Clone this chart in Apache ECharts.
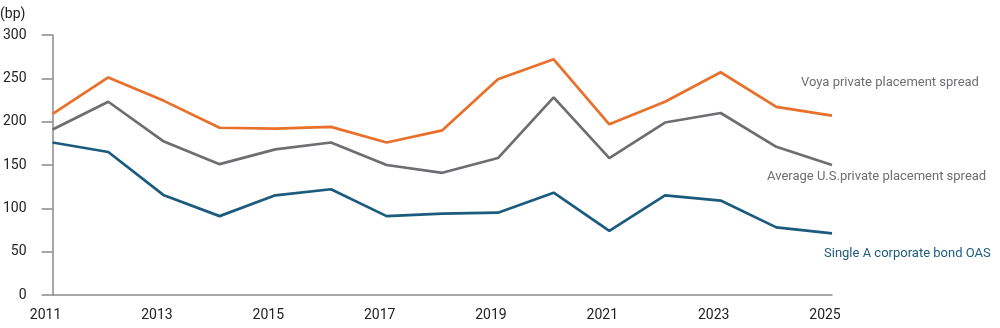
<!DOCTYPE html>
<html>
<head>
<meta charset="utf-8">
<script src="https://cdn.jsdelivr.net/npm/echarts@6/dist/echarts.min.js"></script>
<style>
  html, body { margin: 0; padding: 0; background: #fff; }
  #chart { width: 1000px; height: 328px; }
</style>
</head>
<body>
<div id="chart"></div>
<script>
let years = ['2011', '2012', '2013', '2014', '2015', '2016', '2017', '2018',
  '2019', '2020', '2021', '2022', '2023', '2024', '2025']

let voyaSpread = [209, 251, 224, 193, 192, 194, 176, 190, 249, 272, 197, 223, 257, 217, 207]
let avgUsSpread = [191, 223, 177, 151, 168, 176, 150, 141, 158, 228, 158, 199, 210, 171, 150]
let singleAOas = [176, 165, 115, 91, 115, 122, 91, 94, 95, 118, 74, 115, 109, 78, 71]

const font = 'Roboto'
const axisColor = '#8a8a8a'

let myChart = echarts.init(document.getElementById('chart'))

let lineSeries = (name, data, color) => ({
  name: name,
  type: 'line',
  data: data,
  symbol: 'none',
  lineStyle: {color: color, width: 2.7},
  itemStyle: {color: color},
  z: 3
})

let option = {
  animation: false,
  grid: {left: 51, right: 168, top: 35, bottom: 33},
  xAxis: {
    type: 'category',
    data: years,
    boundaryGap: false,
    axisLine: {lineStyle: {color: axisColor, width: 1.5}},
    axisTick: {show: false},
    axisLabel: {
      interval: 1,
      margin: 13,
      color: '#222',
      fontFamily: font,
      fontSize: 14,
      padding: [0, 14, 0, 0]
    }
  },
  yAxis: {
    type: 'value',
    min: 0,
    max: 300,
    interval: 50,
    axisLine: {show: true, lineStyle: {color: axisColor, width: 1.5}},
    axisTick: {show: true, length: 11, lineStyle: {color: axisColor, width: 1.5}},
    splitLine: {show: false},
    axisLabel: {margin: 26, color: '#222', fontFamily: font, fontSize: 14}
  },
  graphic: [
    {type: 'text', left: 0, top: 7, style: {text: '(bp)', fill: '#222', font: '14px ' + font}},
    {type: 'text', left: 801, top: 76, style: {text: 'Voya private placement spread', fill: '#6d6e71', font: '13px ' + font}},
    {type: 'text', left: 767, top: 170, style: {text: 'Average U.S.private placement spread', fill: '#6d6e71', font: '13px ' + font}},
    {type: 'text', left: 824, top: 247, style: {text: 'Single A corporate bond OAS', fill: '#1b5b7e', font: '13px ' + font}}
  ],
  series: [
    lineSeries('Voya private placement spread', voyaSpread, '#e8702a'),
    lineSeries('Average U.S. private placement spread', avgUsSpread, '#6d6e71'),
    lineSeries('Single A corporate bond OAS', singleAOas, '#1b5b7e')
  ]
}

myChart.setOption(option)
</script>
</body>
</html>
